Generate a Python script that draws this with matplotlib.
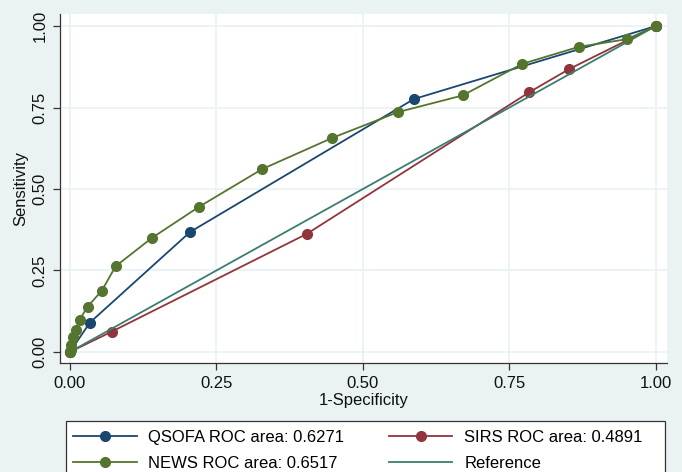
import matplotlib
matplotlib.use("Agg")
import matplotlib.pyplot as plt
from matplotlib.lines import Line2D
from matplotlib.patches import Rectangle

plt.rcParams['font.family'] = ['Liberation Sans', 'DejaVu Sans']

qsofa_x = [0.0, 0.034, 0.205, 0.587, 1.0]
qsofa_y = [0.0, 0.090, 0.368, 0.776, 1.0]

sirs_x = [0.0, 0.071, 0.404, 0.784, 0.852, 1.0]
sirs_y = [0.0, 0.062, 0.362, 0.797, 0.868, 1.0]

news_x = [0.0, 0.001, 0.002, 0.005, 0.0097, 0.0166, 0.030, 0.054, 0.078,
          0.140, 0.220, 0.328, 0.448, 0.560, 0.670, 0.772, 0.868, 0.951, 1.0]
news_y = [0.0, 0.007, 0.022, 0.046, 0.068, 0.099, 0.139, 0.187, 0.263,
          0.350, 0.445, 0.561, 0.657, 0.736, 0.787, 0.884, 0.936, 0.960, 1.0]

ref_x = [0.0, 1.0]
ref_y = [0.0, 1.0]

labels = ["QSOFA ROC area: 0.6271", "SIRS ROC area: 0.4891",
          "NEWS ROC area: 0.6517", "Reference"]
ticks = [0.0, 0.25, 0.5, 0.75, 1.0]
tick_labels = ["0.00", "0.25", "0.50", "0.75", "1.00"]

c_blue = "#1a476f"
c_red = "#90353b"
c_green = "#55752f"
c_ref = "#3b7d72"
bg = "#eaf2f3"

W, H = 682, 472
fig = plt.figure(figsize=(W / 100, H / 100), dpi=100, facecolor=bg)
ax = fig.add_axes([60 / W, 1 - 363 / H, (667 - 60) / W, (363 - 14) / H])
ax.set_facecolor("white")

ax.set_xlim(-0.017, 1.019)
ax.set_ylim(-0.034, 1.037)

ax.set_xticks(ticks)
ax.set_xticklabels(tick_labels)
ax.set_yticks(ticks)
ax.set_yticklabels(tick_labels, rotation=90, va="center")
ax.grid(True, color=bg, lw=1.3)
ax.set_axisbelow(True)
for s in ["top", "right"]:
    ax.spines[s].set_visible(False)
for s in ["left", "bottom"]:
    ax.spines[s].set_color("#333333")
    ax.spines[s].set_linewidth(0.9)
fs = 12
ax.tick_params(axis="both", direction="out", length=5, width=0.9,
               color="#333333", labelsize=fs, pad=4, labelcolor="#111111")

ms = 7
lw = 1.3
ax.plot(qsofa_x, qsofa_y, color=c_blue, lw=lw, marker="o", ms=ms, zorder=3)
ax.plot(sirs_x, sirs_y, color=c_red, lw=lw, marker="o", ms=ms, zorder=3)
ax.plot(news_x, news_y, color=c_green, lw=lw, marker="o", ms=ms, zorder=4)
ax.plot(ref_x, ref_y, color=c_ref, lw=lw, zorder=3.5)

ax.set_xlabel("1-Specificity", fontsize=fs, labelpad=2, color="#111111")
ax.set_ylabel("Sensitivity", fontsize=fs, labelpad=3, color="#111111")

# legend frame drawn by hand (extends past the bottom edge, as in the source)
fig.patches.append(Rectangle((66 / W, -0.05), (665 - 66) / W, 1 - 421 / H + 0.05,
                             transform=fig.transFigure, facecolor="white",
                             edgecolor="#333333", lw=0.9, zorder=0))

h_q = Line2D([], [], color=c_blue, lw=lw, marker="o", ms=ms)
h_s = Line2D([], [], color=c_red, lw=lw, marker="o", ms=ms)
h_n = Line2D([], [], color=c_green, lw=lw, marker="o", ms=ms)
h_r = Line2D([], [], color=c_ref, lw=lw)
# column-major fill: col1 = QSOFA, NEWS ; col2 = SIRS, Reference
handles = [h_q, h_n, h_s, h_r]
leg_labels = [labels[0], labels[2], labels[1], labels[3]]
leg = fig.legend(handles, leg_labels, loc="upper left", ncol=2,
                 bbox_to_anchor=(64 / W, 1 - 421 / H),
                 frameon=False,
                 fontsize=fs, handlelength=3.8, handletextpad=0.7,
                 labelspacing=0.62, borderpad=0.55, borderaxespad=0,
                 columnspacing=2.7)

fig.savefig("out.png", dpi=100, facecolor=bg)
